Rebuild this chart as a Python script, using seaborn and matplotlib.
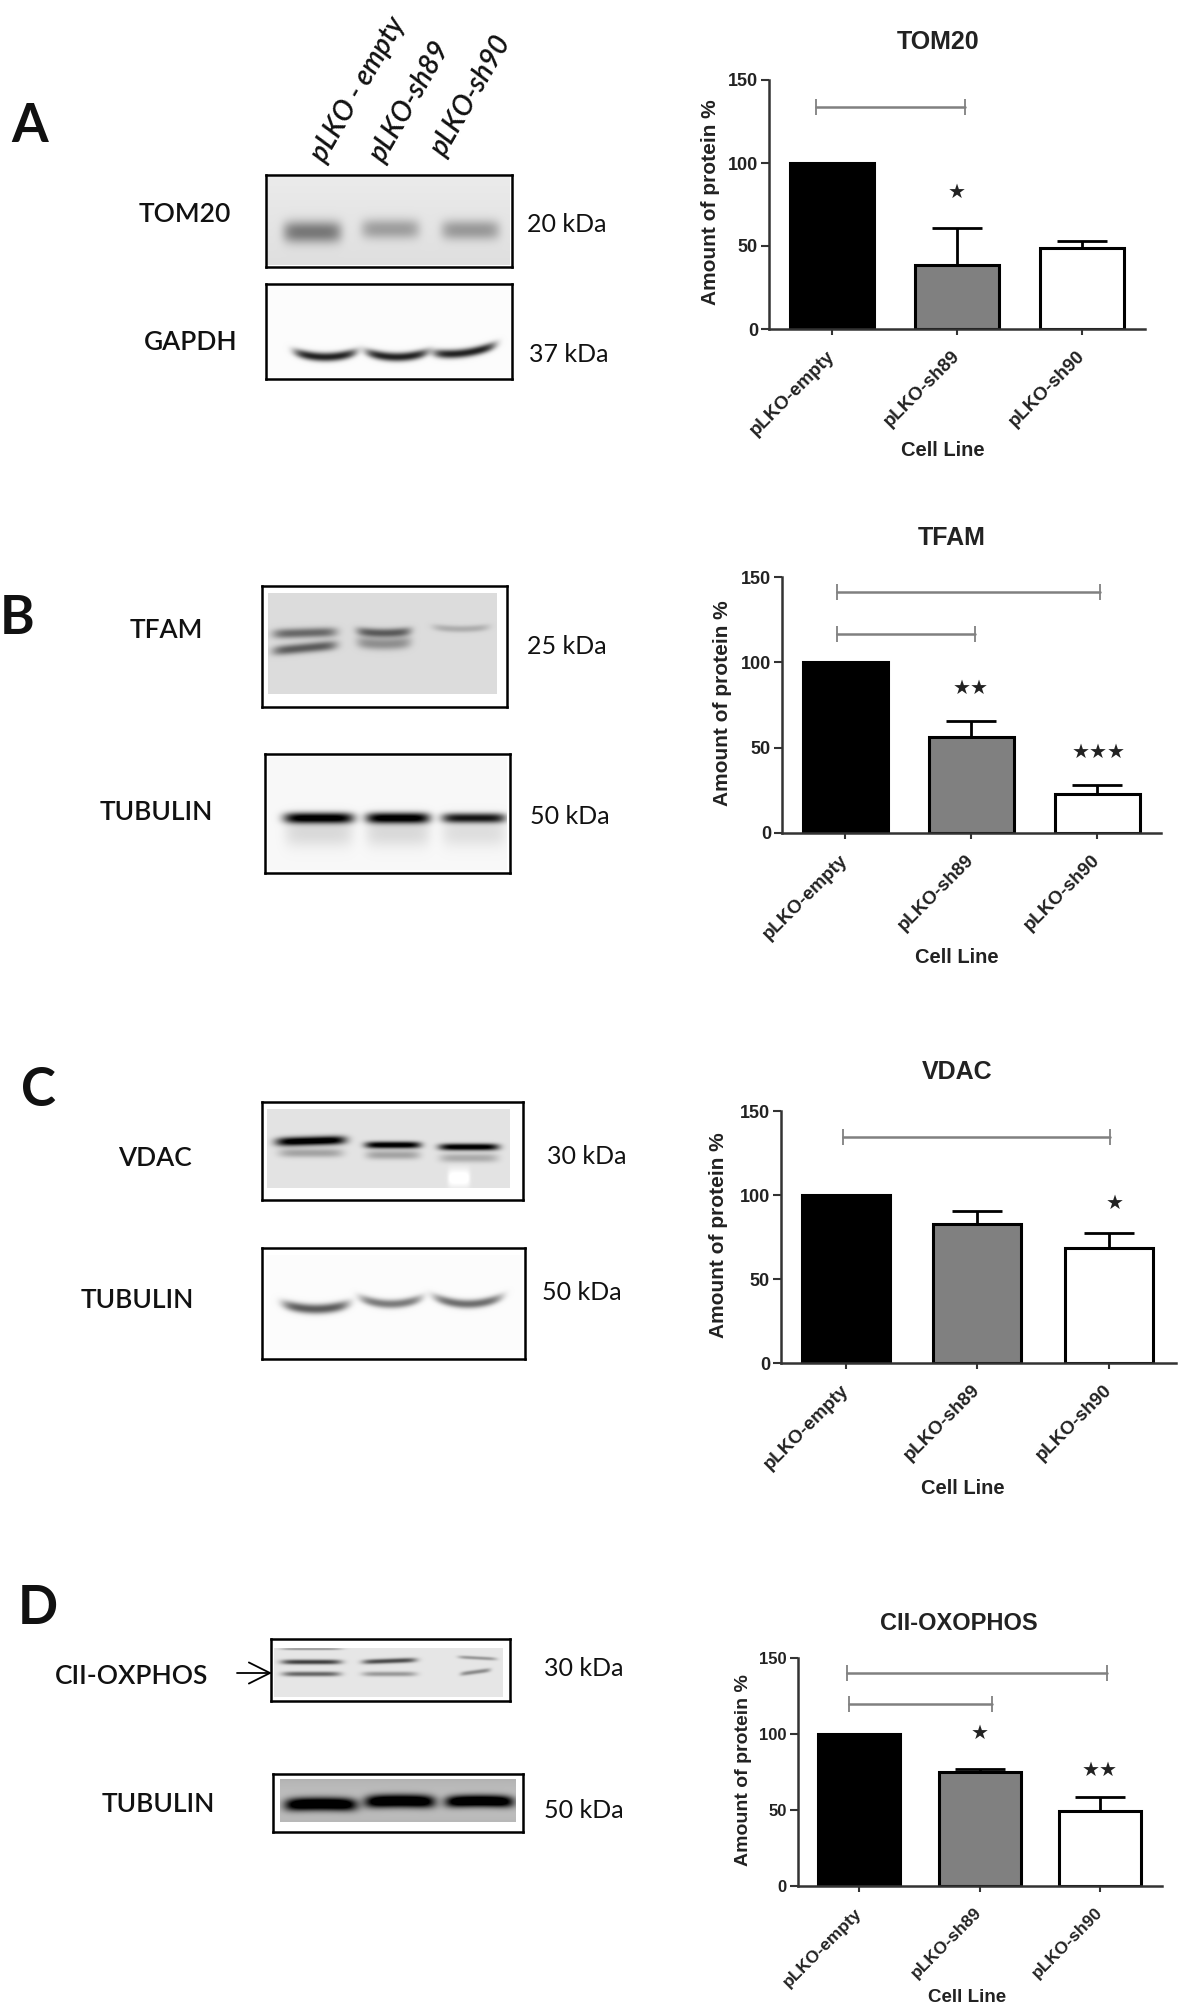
import numpy as np
import matplotlib
matplotlib.use("Agg")
import matplotlib.pyplot as plt
from matplotlib.patches import FancyArrowPatch
import seaborn as sns

# ---------- data ----------
cell_lines = ["pLKO-empty", "pLKO-sh89", "pLKO-sh90"]
bar_colors = ["#000000", "#808080", "#ffffff"]
protein_ticks = [0, 50, 100, 150]

tom20_values = [100, 38.6, 48.5]
tom20_errors = [0, 22.4, 4.5]
tfam_values = [100, 56.2, 23]
tfam_errors = [0, 9.2, 5]
vdac_values = [100, 82.6, 68.7]
vdac_errors = [0, 7.6, 8.9]
cii_values = [100, 75.2, 49.3]
cii_errors = [0, 1.6, 9.4]

tom20_brackets = [(-0.13, 1.06, 134)]
tfam_brackets = [(-0.06, 2.02, 141), (-0.06, 1.03, 116.4)]
vdac_brackets = [(-0.02, 2.01, 134.6)]
cii_brackets = [(-0.10, 2.06, 140), (-0.08, 1.10, 120)]

tom20_stars = [(1.0, 82, "★")]
tfam_stars = [(1.0, 85, "★★"), (2.01, 47, "★★★")]
vdac_stars = [(2.04, 95, "★")]
cii_stars = [(1.0, 100.5, "★"), (2.0, 76, "★★")]

tom20_bands = [0.42, 0.27, 0.29]
gapdh_bands = [0.85, 0.85, 0.85]
tfam_bands = [0.45, 0.50, 0.50, 0.30, 0.18]
tubulin_b_bands = [0.12, 0.12, 0.10, 1.0, 1.0, 0.85]
vdac_bands = [0.25, 0.25, 0.22, 1.0, 0.95, 0.95]
tubulin_c_bands = [0.62, 0.50, 0.55]
cii_bands = [0.30, 0.65, 0.50, 0.60, 0.30, 0.30, 0.35]
tubulin_d_bands = [1.0, 1.0, 1.0]
vdac_spot = [-0.14]

W, H = 1181, 2009
sns.set_theme(style="white")
plt.rcParams["font.family"] = ["Liberation Sans", "DejaVu Sans"]
fig = plt.figure(figsize=(W / 100, H / 100), dpi=100, facecolor="white")
LABEL_FONT = ["Lato", "DejaVu Sans"]


def fx(x):
    return x / W


def fy(y):
    return 1 - y / H


def label(x, y, s, size=19, weight=600, **kw):
    fig.text(fx(x), fy(y), s, ha="center", va="center", fontsize=size,
             family=LABEL_FONT, weight=weight, color="#111111", **kw)


def bar_panel(values, errors, brackets, stars, title, spine, top, base, right,
              centers, bar_w, title_xy, xlabel_xy, ylabel_xy, fs=13):
    ax = fig.add_axes([fx(spine), fy(base), (right - spine) / W, (base - top) / H])
    s = (centers[2] - centers[0]) / 2
    sns.barplot(x=cell_lines, y=values, hue=cell_lines, palette=bar_colors,
                order=cell_lines, hue_order=cell_lines, legend=False,
                width=bar_w / s, edgecolor="black", linewidth=2.2,
                saturation=1, ax=ax)
    for i, (v, e) in enumerate(zip(values, errors)):
        if e > 0:
            ax.errorbar([i], [v], yerr=[[0], [e]], color="black", elinewidth=2,
                        capsize=18, capthick=2, zorder=1)
    for x0, x1, y in brackets:
        ax.plot([x0, x1], [y, y], color="#808080", lw=1.8, marker="|", ms=11,
                mew=1.3, clip_on=False)
    for x, y, st in stars:
        ax.text(x, y, st, ha="center", va="center", fontsize=14.5,
                family=["DejaVu Sans"], color="#222222")
    ax.set_xlim((spine - centers[0]) / s, (right - centers[0]) / s)
    ax.set_ylim(0, 150)
    ax.set_yticks(protein_ticks)
    ax.set_xticks(range(3))
    ax.set_xticklabels(cell_lines, rotation=45, ha="right", va="center",
                       rotation_mode="anchor", fontsize=fs + 0.5, weight="bold",
                       color="#222222")
    ax.set_yticklabels([str(t) for t in protein_ticks], fontsize=fs, weight="bold",
                       color="#222222")
    ax.tick_params(axis="y", length=6, width=1.5, color="#333333", pad=2, left=True)
    ax.tick_params(axis="x", length=4.5, width=1.5, color="#333333", pad=13, bottom=True)
    sns.despine(ax=ax)
    for side in ("left", "bottom"):
        ax.spines[side].set_linewidth(1.8)
        ax.spines[side].set_color("#333333")
    ax.patch.set_alpha(0)
    w, h = right - spine, base - top
    ax.set_title(title, fontsize=fs + 5, weight="bold", color="#222222", pad=0,
                 x=(title_xy[0] - spine) / w, y=(base - title_xy[1]) / h, va="center")
    ax.set_xlabel("Cell Line", fontsize=fs + 1.5, weight="bold", color="#222222")
    ax.xaxis.set_label_coords((xlabel_xy[0] - spine) / w, (base - xlabel_xy[1]) / h)
    ax.xaxis.label.set_va("center")
    ax.set_ylabel("Amount of protein %", fontsize=fs + 2, weight="bold", color="#222222")
    ax.yaxis.set_label_coords((ylabel_xy[0] - spine) / w, (base - ylabel_xy[1]) / h)
    ax.yaxis.label.set_va("center")


def blot(box, inner, bg, intensities, geometry, fade=0.0, edge_dark=0.0):
    """box / inner in figure pixels; geometry: (cx, cy, half-w, sigma-y, curve, tilt)."""
    x0, y0, x1, y1 = box
    ax = fig.add_axes([fx(x0), fy(y1), (x1 - x0) / W, (y1 - y0) / H])
    xs = np.arange(x0, x1) + 0.5
    ys = np.arange(y0, y1) + 0.5
    X, Y = np.meshgrid(xs, ys)
    img = np.full(X.shape, float(bg))
    if fade:
        img += fade * (Y - y0) / (y1 - y0)
    if edge_dark:
        img -= edge_dark * np.abs((Y - (y0 + y1) / 2) / ((y1 - y0) / 2)) ** 3
    for amp, (cx, cy, hw, sy, curve, tilt) in zip(intensities, geometry):
        u = (X - cx) / hw
        yc = cy + curve * (1 - u ** 2) - tilt * u
        prof_x = np.exp(-np.abs(u) ** 6)
        prof_y = np.exp(-np.abs((Y - yc) / sy) ** 2.2)
        img -= amp * prof_x * prof_y
    ix0, iy0, ix1, iy1 = inner
    mask = (X < ix0) | (X > ix1) | (Y < iy0) | (Y > iy1)
    img[mask] = 1.0
    sns.heatmap(np.clip(img, 0, 1), vmin=0, vmax=1, cmap="gray", cbar=False,
                xticklabels=False, yticklabels=False, ax=ax)
    for sp in ax.spines.values():
        sp.set_visible(True)
        sp.set_color("black")
        sp.set_linewidth(1.8)
    return ax


# ---------- western blots ----------
blot((265.5, 175, 512, 267), (268, 177, 510, 265), 0.92, tom20_bands,
     [(313, 232, 29, 11, 0, 0), (391, 229, 29, 10, 0, 0), (471, 230, 29, 10, 0, 0)], fade=-0.05)
blot((265.5, 284, 512, 379), (268, 286, 510, 377), 0.985, gapdh_bands,
     [(326, 352, 31, 4.5, 5, 0), (397.5, 352, 31, 4.5, 5, 0), (465, 349, 31, 4.5, 4, 4)])
blot((262, 586, 507, 707), (268, 593, 497, 694), 0.86, tfam_bands,
     [(305, 633, 32, 5, 0, 1), (305, 648, 32, 5, 0, 3), (384, 631, 27, 4.5, 2, 0),
      (384, 642, 27, 6, 2, 0), (461, 627, 28, 3.5, 2, 0)])
blot((265, 754, 510, 873), (268, 757, 507, 870), 0.97, tubulin_b_bands,
     [(319, 832, 34, 15, 0, 0), (398, 832, 32, 15, 0, 0), (474, 832, 32, 15, 0, 0),
      (319, 818, 35, 5.5, 0, 0), (398, 818, 32, 5.5, 0, 0), (474, 818, 32, 5, 0, 0)])
blot((262, 1102, 522.5, 1200), (267, 1109, 510, 1188), 0.89, vdac_bands + vdac_spot,
     [(311, 1153, 32, 4.5, 0, 0), (393, 1155, 27, 4.5, 0, 0), (469, 1158, 29, 4.5, 0, 0),
      (311, 1141, 35, 4.5, 0, 1), (393, 1145, 28, 3.5, 0, 0), (469, 1147, 30, 3.5, 0, 0),
      (459, 1178, 11, 9, 0, 0)])
blot((262, 1248, 525, 1359), (266, 1255, 522, 1350), 0.985, tubulin_c_bands,
     [(316, 1304, 33, 5, 5, 0), (391, 1298, 31, 4.5, 6, 0), (468, 1297, 34, 4.5, 7, 0)])
blot((270.5, 1639, 510, 1701), (275, 1648, 503, 1697), 0.90, cii_bands,
     [(312, 1649, 30, 1.3, 0, 0), (312, 1662, 30, 2.5, 0, 0), (312, 1674, 29, 2.5, 0, 0),
      (390, 1661, 27, 2.5, 0, 1), (390, 1674, 27, 2.5, 0, 0), (478, 1658, 19, 1.8, 0, -1),
      (476, 1672, 15, 2.2, 0, 2)])
blot((272.5, 1774, 522.5, 1832), (280, 1779, 515.5, 1822), 0.74, tubulin_d_bands,
     [(320.5, 1805, 36, 6.5, -1, 0), (399.5, 1802, 35, 6.5, -1, 0), (479, 1802, 34, 6, -1, 0)],
     edge_dark=0.08)

# ---------- panel letters ----------
for s, x, y in [("A", 30, 127), ("B", 17, 619), ("C", 38, 1091), ("D", 38, 1608)]:
    label(x, y, s, size=38, weight="bold")

# ---------- lane headers ----------
for s, x, y in [("pLKO - empty", 318, 160), ("pLKO-sh89", 377, 160), ("pLKO-sh90", 438, 153)]:
    fig.text(fx(x), fy(y), s, rotation=60, rotation_mode="anchor", ha="left",
             va="center", fontsize=20, style="italic", weight=600,
             family=LABEL_FONT, color="#111111")

# ---------- blot labels ----------
for s, x, y in [("TOM20", 185, 215), ("GAPDH", 191, 343), ("TFAM", 166, 631),
                ("TUBULIN", 156, 813), ("VDAC", 155, 1158), ("TUBULIN", 137, 1301),
                ("CII-OXPHOS", 132, 1677), ("TUBULIN", 158, 1804)]:
    label(x, y, s, size=19)
for s, x, y in [("20 kDa", 567, 225), ("37 kDa", 569, 355), ("25 kDa", 567, 646),
                ("50 kDa", 570, 817), ("30 kDa", 587, 1157), ("50 kDa", 582, 1293),
                ("30 kDa", 584, 1669), ("50 kDa", 584, 1811)]:
    label(x, y, s, size=18, weight="normal")

fig.add_artist(FancyArrowPatch((fx(237), fy(1673)), (fx(272), fy(1673)),
                               transform=fig.transFigure, arrowstyle="->",
                               mutation_scale=38, lw=1.3, color="black",
                               shrinkA=0, shrinkB=0))

# ---------- bar charts ----------
bar_panel(tom20_values, tom20_errors, tom20_brackets, tom20_stars, "TOM20",
          769, 80, 329, 1145, [832, 957, 1082], 84, (938, 42), (943, 451), (710, 202))
bar_panel(tfam_values, tfam_errors, tfam_brackets, tfam_stars, "TFAM",
          782, 577, 833, 1161, [845, 971, 1097], 85, (952, 538), (957, 958), (723, 703))
bar_panel(vdac_values, vdac_errors, vdac_brackets, vdac_stars, "VDAC",
          781, 1111, 1363, 1176, [846, 977, 1109], 88, (957, 1072), (963, 1488), (719, 1235))
bar_panel(cii_values, cii_errors, cii_brackets, cii_stars, "CII-OXOPHOS",
          798, 1658, 1886, 1162, [859, 979, 1100], 82, (959, 1624), (967, 1997), (743, 1770), fs=12)

fig.savefig("out.png", dpi=100, facecolor="white")
